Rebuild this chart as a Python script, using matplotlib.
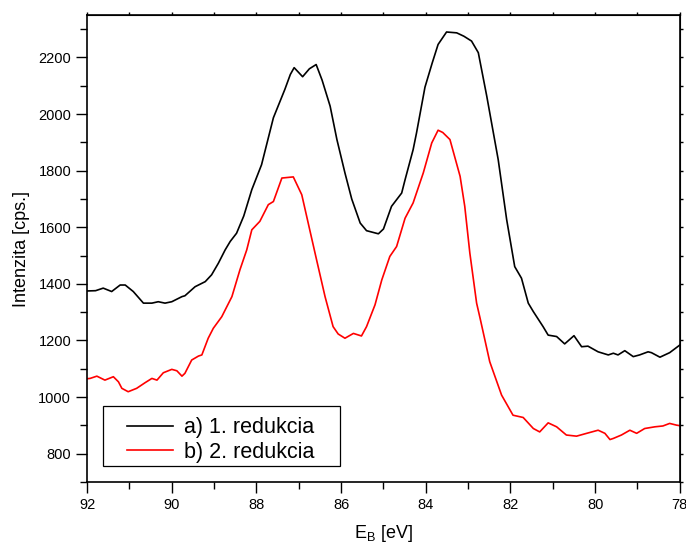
import numpy as np
import matplotlib.pyplot as plt
from matplotlib.patches import Rectangle
from matplotlib.ticker import MultipleLocator, NullFormatter

plt.rcParams["font.family"] = ["Liberation Sans", "DejaVu Sans"]
plt.rcParams["mathtext.fontset"] = "custom"
plt.rcParams["mathtext.rm"] = "Liberation Sans"
plt.rcParams["mathtext.default"] = "regular"

# binding energy [eV] and intensity [cps]
e_1 = [92.0, 91.8, 91.62, 91.42, 91.22, 91.1, 90.91, 90.67, 90.47, 90.32, 90.16, 90.0,
       89.76, 89.69, 89.45, 89.21, 89.06, 88.9, 88.74, 88.62, 88.47, 88.3, 88.11, 87.88,
       87.6, 87.33, 87.2, 87.11, 86.91, 86.75, 86.59, 86.45, 86.26, 86.1, 85.91, 85.75,
       85.55, 85.4, 85.12, 85.0, 84.81, 84.57, 84.49, 84.3, 84.22, 84.02, 83.85, 83.71,
       83.51, 83.27, 83.1, 82.92, 82.76, 82.56, 82.29, 82.09, 81.9, 81.74, 81.58, 81.46,
       81.23, 81.11, 80.91, 80.72, 80.5, 80.32, 80.17, 79.93, 79.69, 79.57, 79.46, 79.3,
       79.1, 78.95, 78.75, 78.67, 78.47, 78.24, 78.0]
i_1 = [1375, 1376, 1385, 1373, 1396, 1396, 1373, 1332, 1332, 1337, 1332, 1337,
       1355, 1358, 1390, 1408, 1432, 1473, 1520, 1550, 1579, 1640, 1733, 1821,
       1987, 2087, 2140, 2164, 2132, 2160, 2175, 2120, 2028, 1910, 1792, 1700,
       1615, 1588, 1577, 1594, 1674, 1721, 1768, 1874, 1933, 2095, 2180, 2246,
       2290, 2287, 2275, 2258, 2217, 2063, 1839, 1627, 1461, 1420, 1332, 1302,
       1249, 1219, 1214, 1188, 1217, 1178, 1180, 1160, 1149, 1155, 1149, 1164,
       1143, 1149, 1160, 1157, 1141, 1157, 1184]

e_2 = [92.0, 91.93, 91.77, 91.58, 91.38, 91.26, 91.18, 91.03, 90.83, 90.63, 90.47, 90.35,
       90.2, 90.0, 89.88, 89.76, 89.69, 89.53, 89.37, 89.29, 89.14, 89.02, 88.82, 88.58,
       88.39, 88.23, 88.11, 87.92, 87.72, 87.6, 87.4, 87.13, 86.93, 86.74, 86.58, 86.38,
       86.19, 86.07, 85.91, 85.71, 85.52, 85.4, 85.2, 85.04, 84.85, 84.69, 84.49, 84.3,
       84.06, 83.86, 83.71, 83.6, 83.43, 83.19, 83.08, 82.96, 82.8, 82.72, 82.49, 82.21,
       81.94, 81.7, 81.46, 81.31, 81.11, 80.91, 80.68, 80.44, 80.2, 79.93, 79.77, 79.65,
       79.57, 79.38, 79.18, 79.02, 78.83, 78.59, 78.4, 78.24, 78.08, 77.96]
i_2 = [1065, 1066, 1074, 1060, 1072, 1054, 1031, 1019, 1031, 1051, 1066, 1060,
       1086, 1098, 1093, 1074, 1084, 1131, 1145, 1149, 1208, 1243, 1284, 1355,
       1450, 1520, 1591, 1621, 1680, 1691, 1774, 1778, 1715, 1590, 1485, 1355,
       1249, 1223, 1208, 1225, 1216, 1249, 1326, 1414, 1497, 1532, 1632, 1686,
       1792, 1898, 1943, 1935, 1910, 1780, 1674, 1509, 1332, 1280, 1125, 1007,
       936, 928, 889, 877, 909, 895, 866, 862, 872, 883, 872, 850,
       854, 866, 883, 872, 889, 895, 898, 907, 901, 898]

labels = ["a) 1. redukcia", "b) 2. redukcia"]

fig = plt.figure(figsize=(6.86, 5.46), dpi=100)
ax = fig.add_axes([0.127, 0.1172, 0.864, 0.8553])

ax.plot(e_1, i_1, color="black", lw=1.2, label=labels[0])
ax.plot(e_2, i_2, color="red", lw=1.2, label=labels[1])

ax.set_xlim(92, 78)
ax.set_ylim(700, 2350)
ax.xaxis.set_major_locator(MultipleLocator(2))
ax.xaxis.set_minor_locator(MultipleLocator(1))
ax.yaxis.set_major_locator(MultipleLocator(200))
ax.yaxis.set_minor_locator(MultipleLocator(100))
ax.tick_params(which="major", direction="out", length=8, width=1, labelsize=10.5)
ax.tick_params(which="minor", direction="out", length=5, width=1)
for s in ax.spines.values():
    s.set_linewidth(1.2)

top = ax.secondary_xaxis("top")
top.xaxis.set_major_locator(MultipleLocator(1))
top.xaxis.set_major_formatter(NullFormatter())
top.tick_params(direction="out", length=2.5, width=1)
right = ax.secondary_yaxis("right")
right.yaxis.set_major_locator(MultipleLocator(100))
right.yaxis.set_major_formatter(NullFormatter())
right.tick_params(direction="out", length=2.5, width=1)

ax.set_xlabel("E$_{B}$ [eV]", fontsize=13, labelpad=8)
ax.set_ylabel("Intenzita [cps.]", fontsize=13, labelpad=6)

# legend box: Origin-style frame with wide side padding
ax.add_patch(Rectangle((0.027, 0.0343), 0.3996, 0.1284, transform=ax.transAxes,
                       facecolor="white", edgecolor="black", lw=0.9, zorder=4))
leg = ax.legend(loc="upper left", bbox_to_anchor=(0.0674, 0.139), fontsize=15.5,
                frameon=False, borderaxespad=0, borderpad=0, handlelength=2.14,
                handletextpad=0.5, labelspacing=0.17)
leg.set_zorder(5)

fig.savefig("out.png", dpi=100)
